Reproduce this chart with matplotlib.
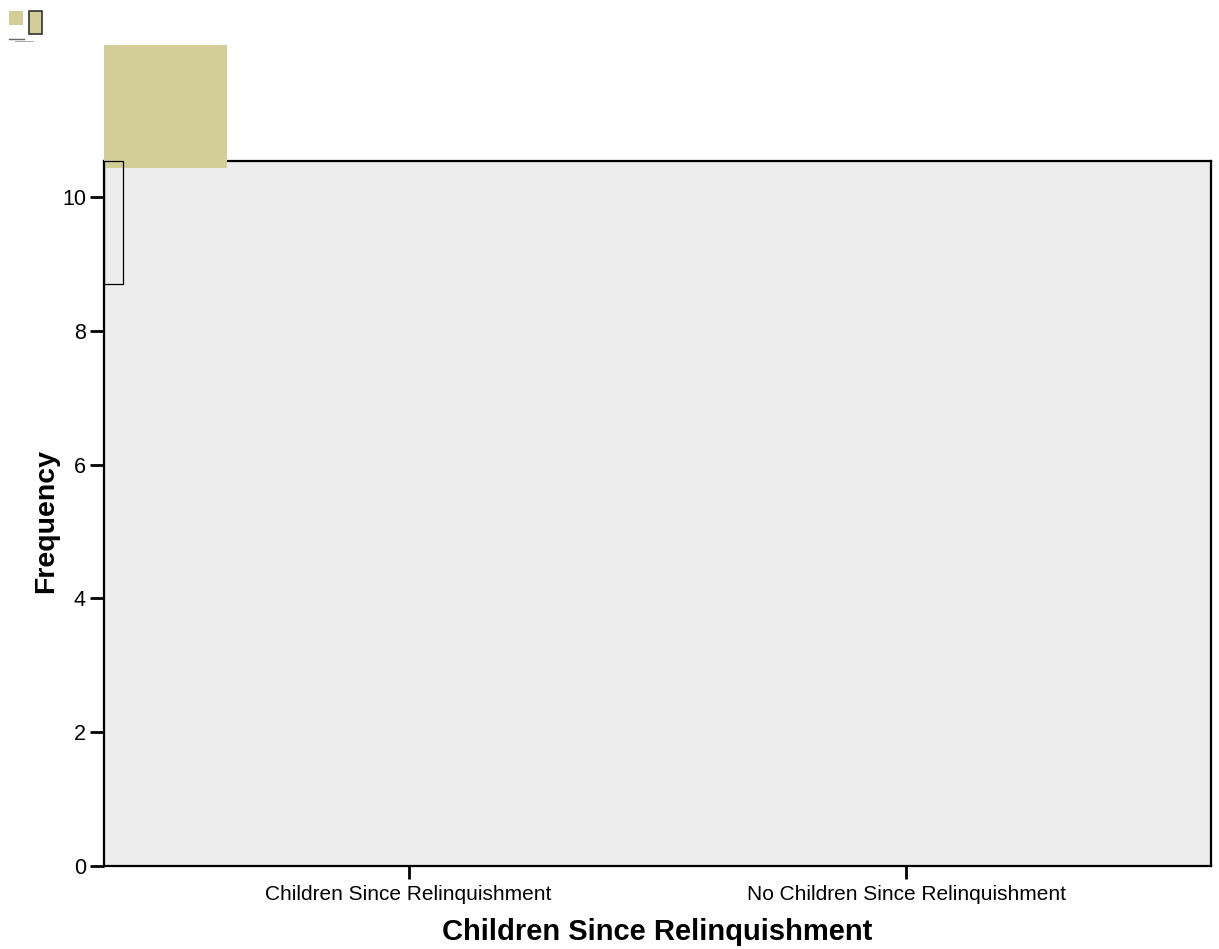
import matplotlib
matplotlib.use("Agg")
import matplotlib.pyplot as plt
from matplotlib.patches import Rectangle
from matplotlib.lines import Line2D

plt.rcParams['font.family'] = ['Liberation Sans', 'DejaVu Sans']

categories = ["Children Since Relinquishment", "No Children Since Relinquishment"]
y_ticks = [0, 2, 4, 6, 8, 10]
x_title = "Children Since Relinquishment"
y_title = "Frequency"

W, H = 1219, 949
fig = plt.figure(figsize=(W / 100, H / 100), dpi=100)

def fx(px):
    return px / W

def fy(py):
    return 1 - py / H

left, right, top, bottom = 104, 1211, 161, 866
ax = fig.add_axes([fx(left), fy(bottom), fx(right - left), (bottom - top) / H])
ax.set_facecolor('#EDEDED')
ax.set_xlim(-0.612, 1.612)
ax.set_ylim(0, (bottom - top) / ((bottom - 197) / 10))
ax.set_xticks(range(len(categories)))
ax.set_xticklabels(categories, fontsize=15)
ax.set_yticks(y_ticks)
ax.set_yticklabels([str(t) for t in y_ticks], fontsize=15.5)
ax.tick_params(axis='y', length=10, width=2, pad=3)
ax.tick_params(axis='x', length=9, width=2, pad=4.7)
for s in ax.spines.values():
    s.set_linewidth(1.6)
ax.set_xlabel(x_title, fontsize=21, fontweight='bold', va='center')
ax.xaxis.set_label_coords(0.5, -0.094)
ax.set_ylabel(y_title, fontsize=20.5, fontweight='bold', va='center')
ax.yaxis.set_label_coords(-0.052, 0.49)

khaki = '#D3CE97'
# rendering artifacts from the original chart
fig.patches.append(Rectangle((fx(104), fy(168)), fx(123), 123 / H, transform=fig.transFigure,
                             facecolor=khaki, edgecolor='none', zorder=5))
fig.patches.append(Rectangle((fx(104), fy(284)), fx(19), 123 / H, transform=fig.transFigure,
                             facecolor='none', edgecolor='black', linewidth=0.9, zorder=6))
# legend-like remnants
fig.patches.append(Rectangle((fx(9), fy(25)), fx(14), 14 / H, transform=fig.transFigure,
                             facecolor=khaki, edgecolor='none', zorder=5))
fig.patches.append(Rectangle((fx(28.5), fy(34)), fx(13.5), 23 / H, transform=fig.transFigure,
                             facecolor=khaki, edgecolor='#333333', linewidth=1.2, zorder=5))
fig.lines.append(Line2D([fx(9), fx(24)], [fy(39), fy(39)], transform=fig.transFigure,
                        color='#666666', linewidth=1.0))
fig.lines.append(Line2D([fx(15), fx(33)], [fy(41.3), fy(41.3)], transform=fig.transFigure,
                        color='#999999', linewidth=0.6))

fig.savefig("out.png", dpi=100, facecolor='white')
